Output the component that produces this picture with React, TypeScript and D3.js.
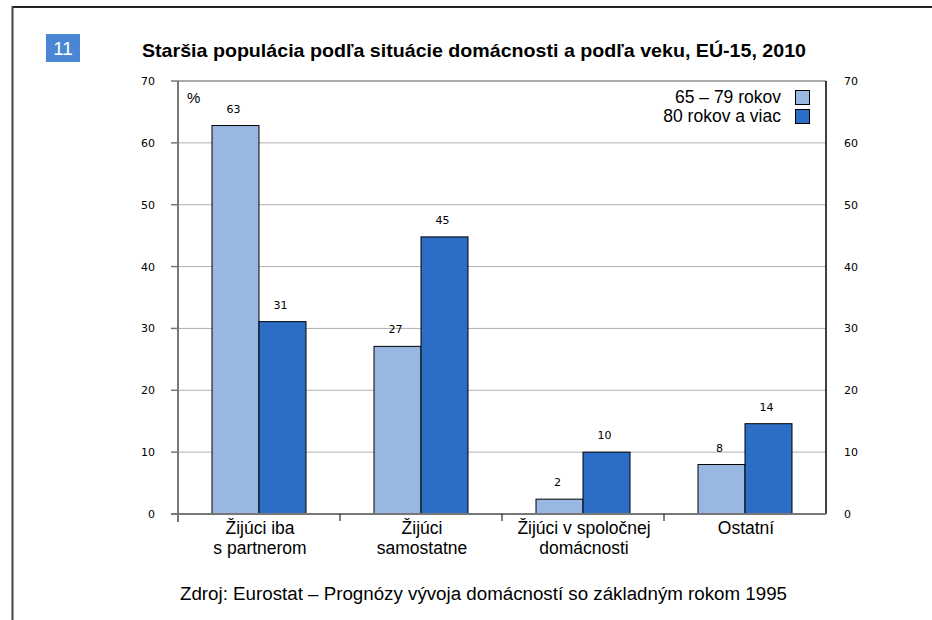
import React from "react";
import * as d3 from "d3";

const categories: string[][] = [
  ["Žijúci iba", "s partnerom"],
  ["Žijúci", "samostatne"],
  ["Žijúci v spoločnej", "domácnosti"],
  ["Ostatní"],
];
const seriesNames = ["65 – 79 rokov", "80 rokov a viac"];
const values65_79 = [62.8, 27.1, 2.4, 8.0];
const values80plus = [31.1, 44.8, 10.0, 14.6];
const labels65_79 = ["63", "27", "2", "8"];
const labels80plus = ["31", "45", "10", "14"];
const yTicks = [0, 10, 20, 30, 40, 50, 60, 70];
const title = "Staršia populácia podľa situácie domácnosti a podľa veku, EÚ-15, 2010";
const source = "Zdroj: Eurostat – Prognózy vývoja domácností so základným rokom 1995";
const badge = "11";

const colors = ["#98b8e2", "#2c6ec6"];

export default function App() {
  const W = 932, H = 620;
  const left = 178, right = 826, top = 81, bottom = 514;
  const x = d3.scaleBand<number>().domain(d3.range(categories.length)).range([left, right]).paddingInner(0).paddingOuter(0);
  const inner = d3.scaleBand<number>().domain([0, 1]).range([0, 94]);
  const y = d3.scaleLinear().domain([0, 70]).range([bottom, top]);
  const series = [values65_79, values80plus];
  const labels = [labels65_79, labels80plus];
  const tickFont = "'DejaVu Sans', Verdana, sans-serif";
  const mainFont = "'Liberation Sans', Arial, Helvetica, sans-serif";

  return (
    <svg width={W} height={H} style={{ position: "absolute", left: 0, top: 0, background: "#fff" }}>
      <rect x={0} y={0} width={W} height={H} fill="#fff" />
      {/* frame */}
      <line x1={12} x2={W} y1={7} y2={7} stroke="#222" strokeWidth={2} />
      <line x1={12.5} x2={12.5} y1={6} y2={H} stroke="#444" strokeWidth={2} />
      {/* badge */}
      <rect x={46} y={34} width={34} height={28} fill="#4a86d4" />
      <text x={63} y={55} textAnchor="middle" fill="#fff" fontFamily={mainFont} fontSize={19}>{badge}</text>
      {/* title */}
      <text x={142} y={57} fontFamily={mainFont} fontWeight="bold" fontSize={19} textLength={664} lengthAdjust="spacingAndGlyphs" fill="#000">{title}</text>
      {/* gridlines */}
      {yTicks.filter(t => t > 0 && t < 70).map(t => (
        <line key={t} x1={left} x2={right} y1={y(t)} y2={y(t)} stroke="#b0b0b0" strokeWidth={1} />
      ))}
      {/* top border */}
      <line x1={left} x2={right} y1={y(70)} y2={y(70)} stroke="#555" strokeWidth={1} />
      {/* right border */}
      <line x1={right} x2={right} y1={y(70)} y2={bottom} stroke="#000" strokeWidth={1.5} />
      {/* bars */}
      {series.map((vals, s) =>
        vals.map((v, i) => {
          const bx = (x(i) as number) + (x.bandwidth() - 94) / 2 + (inner(s) as number);
          return (
            <rect key={`${s}-${i}`} x={bx} y={y(v)} width={inner.bandwidth()} height={bottom - y(v)}
              fill={colors[s]} stroke="#000" strokeWidth={1} />
          );
        })
      )}
      {/* value labels */}
      {series.map((vals, s) =>
        vals.map((v, i) => {
          const bx = (x(i) as number) + (x.bandwidth() - 94) / 2 + (inner(s) as number) + inner.bandwidth() / 2;
          return (
            <text key={`l${s}-${i}`} x={bx - 2} y={y(v) - 13} textAnchor="middle" fontFamily={tickFont} fontSize={11} fill="#000">{labels[s][i]}</text>
          );
        })
      )}
      {/* left axis */}
      <line x1={left} x2={left} y1={y(70)} y2={bottom + 8} stroke="#777" strokeWidth={2} />
      {yTicks.map(t => (
        <g key={`t${t}`}>
          <line x1={left - 7} x2={left} y1={y(t)} y2={y(t)} stroke="#777" strokeWidth={1.5} />
          <text x={155} y={y(t) + 4} textAnchor="end" fontFamily={tickFont} fontSize={11} fill="#000">{t}</text>
          <text x={844} y={y(t) + 4} textAnchor="start" fontFamily={tickFont} fontSize={11} fill="#000">{t}</text>
        </g>
      ))}
      {/* bottom axis */}
      <line x1={left - 7} x2={right} y1={bottom} y2={bottom} stroke="#777" strokeWidth={2} />
      {d3.range(1, categories.length).map(i => (
        <line key={`c${i}`} x1={x(i) as number} x2={x(i) as number} y1={bottom} y2={bottom + 7} stroke="#000" strokeWidth={1} />
      ))}
      {categories.map((lines, i) => (
        <text key={`cat${i}`} textAnchor="middle" fontFamily={mainFont} fontSize={17.5} fill="#000">
          {lines.map((ln, k) => (
            <tspan key={k} x={(x(i) as number) + x.bandwidth() / 2 + 1} y={534 + k * 20}>{ln}</tspan>
          ))}
        </text>
      ))}
      {/* % */}
      <text x={187} y={103} fontFamily={mainFont} fontSize={15} fill="#000">%</text>
      {/* legend */}
      {seriesNames.map((n, s) => (
        <g key={`lg${s}`}>
          <text x={781} y={103 + s * 19} textAnchor="end" fontFamily={mainFont} fontSize={17.5} fill="#000">{n}</text>
          <rect x={795.5} y={90.5 + s * 19} width={14} height={14} fill={colors[s]} stroke="#000" strokeWidth={1} />
        </g>
      ))}
      {/* source */}
      <text x={180} y={600} fontFamily={mainFont} fontSize={18} textLength={607} lengthAdjust="spacingAndGlyphs" fill="#000">{source}</text>
    </svg>
  );
}
